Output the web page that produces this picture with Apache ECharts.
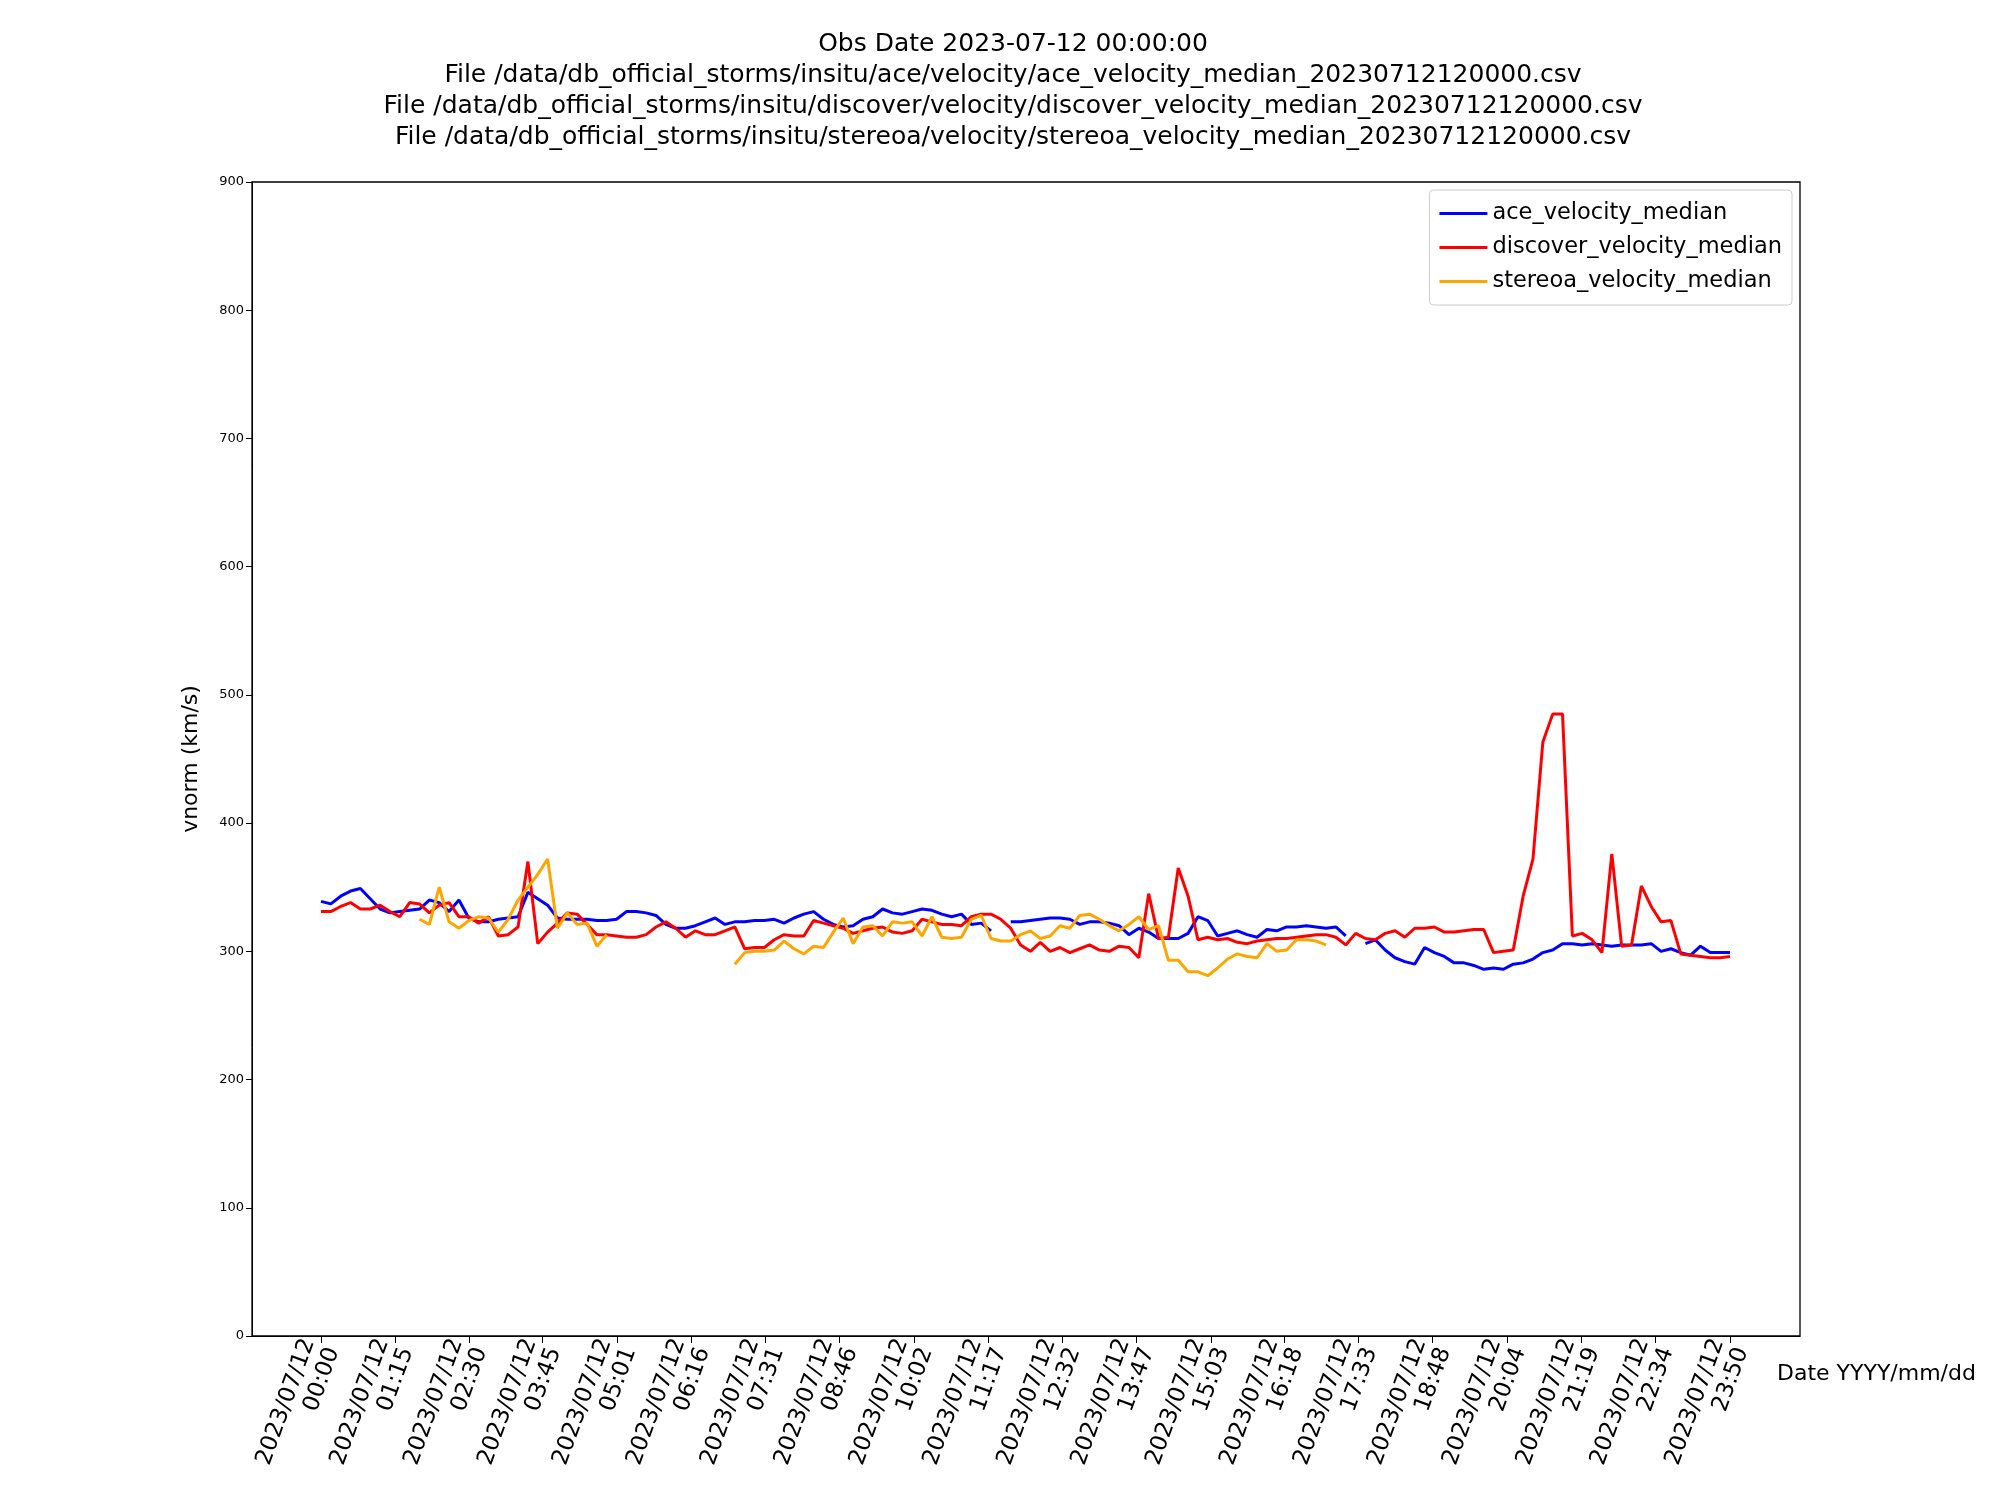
<!DOCTYPE html>
<html><head><meta charset="utf-8">
<script src="https://cdn.jsdelivr.net/npm/echarts@6/dist/echarts.min.js"></script>
<style>html,body{margin:0;padding:0;background:#fff}#c{width:2000px;height:1500px}</style>
</head><body><div id="c"></div>
<script>
const tickLabels = ["00:00","01:15","02:30","03:45","05:01","06:16","07:31","08:46","10:02","11:17","12:32","13:47","15:03","16:18","17:33","18:48","20:04","21:19","22:34","23:50"];
const stepMinutes = 10;
const ace = [339,337,343,347,349,341,333,330,331,332,333,340,338,331,340,326,323,323,325,326,327,346,341,336,326,325,325,325,324,324,325,331,331,330,328,321,318,318,320,323,326,321,323,323,324,324,325,322,326,329,331,325,321,319,320,325,327,333,330,329,331,333,332,329,327,329,321,322,316,null,323,323,324,325,326,326,325,321,323,323,322,320,313,318,315,310,310,310,314,327,324,312,314,316,313,311,317,316,319,319,320,319,318,319,312,null,306,309,301,295,292,290,303,299,296,291,291,289,286,287,286,290,291,294,299,301,306,306,305,306,305,304,305,305,305,306,300,302,299,297,304,299,299,299];
const discover = [331,331,335,338,333,333,336,331,327,338,337,330,336,338,327,327,322,327,312,313,319,370,306,315,322,330,329,321,313,313,312,311,311,313,319,323,318,311,316,313,313,316,319,302,303,303,309,313,312,312,324,322,320,318,314,316,318,319,315,314,316,325,323,321,321,320,327,329,329,325,318,305,300,307,300,303,299,302,305,301,300,304,303,295,345,310,311,365,343,309,311,309,310,307,306,308,309,310,310,311,312,313,313,311,305,314,310,309,314,316,311,318,318,319,315,315,316,317,317,299,300,301,343,372,463,485,485,312,314,309,299,376,304,305,351,335,323,324,298,297,296,295,295,296];
const stereoa = [null,null,null,null,null,null,null,null,null,null,325,321,350,323,318,324,327,326,315,325,340,350,360,372,318,330,321,322,304,313,null,null,null,null,null,null,null,null,null,null,null,null,290,299,300,300,301,308,302,298,304,303,315,326,306,319,320,312,323,322,323,312,327,311,310,311,325,328,310,308,308,313,316,310,312,320,318,328,329,325,320,316,321,327,317,320,293,293,284,284,281,287,294,298,296,295,306,300,301,309,309,308,305];
const toPairs = a => a.map((v,i)=>[i*stepMinutes, v]);
const tickVals = tickLabels.map(s=>{const [h,m]=s.split(':').map(Number);return h*60+m;});
const lab = {}; tickVals.forEach((v,i)=>lab[v]=tickLabels[i]);
const chart = echarts.init(document.getElementById('c'));
chart.setOption({
  animation:false,
  title:{text:"Obs Date 2023-07-12 00:00:00\nFile /data/db_official_storms/insitu/ace/velocity/ace_velocity_median_20230712120000.csv\nFile /data/db_official_storms/insitu/discover/velocity/discover_velocity_median_20230712120000.csv\nFile /data/db_official_storms/insitu/stereoa/velocity/stereoa_velocity_median_20230712120000.csv",
    left:1008, textAlign:'center', top:24, textStyle:{fontFamily:'DejaVu Sans',fontWeight:'normal',fontSize:25,lineHeight:31,color:'#000'}},
  legend:{right:208,top:190,orient:'vertical',itemWidth:48,itemHeight:3,itemGap:11,padding:[12,10,12,10],
    borderColor:'#ccc',borderWidth:1,borderRadius:4,icon:'rect',
    textStyle:{fontFamily:'DejaVu Sans',fontSize:22.5,color:'#000'}},
  grid:{left:252,right:200,top:182,bottom:164,show:true,borderColor:'#000',borderWidth:1.3,containLabel:false},
  xAxis:{type:'value',min:-70,max:1501,
    axisLine:{onZero:false,lineStyle:{color:'#000'}},splitLine:{show:false},
    axisTick:{customValues:tickVals,length:7,lineStyle:{color:'#000'}},
    axisLabel:{customValues:tickVals,rotate:70,fontFamily:'DejaVu Sans',fontSize:23,color:'#000',lineHeight:26,
      formatter:v=>'2023/07/12\n'+(lab[Math.round(v)]||'')}},
  yAxis:{type:'value',min:0,max:900,interval:100,
    name:'vnorm (km/s)',nameLocation:'middle',nameGap:50,nameTextStyle:{fontFamily:'DejaVu Sans',fontSize:22,color:'#000'},
    axisLine:{show:true,onZero:false,lineStyle:{color:'#000'}},axisTick:{show:true,length:6,lineStyle:{color:'#000'}},splitLine:{show:false},
    axisLabel:{fontFamily:'DejaVu Sans',fontSize:13,color:'#000'}},
  graphic:[{type:'text',left:1777,top:1363,style:{text:'Date YYYY/mm/dd',fontFamily:'DejaVu Sans',fontSize:22,fill:'#000'}}],
  series:[
    {name:'ace_velocity_median',type:'line',data:toPairs(ace),showSymbol:false,lineStyle:{width:3,color:'#0000ff'},itemStyle:{color:'#0000ff'}},
    {name:'discover_velocity_median',type:'line',data:toPairs(discover),showSymbol:false,lineStyle:{width:3,color:'#ff0000'},itemStyle:{color:'#ff0000'}},
    {name:'stereoa_velocity_median',type:'line',data:toPairs(stereoa),showSymbol:false,lineStyle:{width:3,color:'#ffa500'},itemStyle:{color:'#ffa500'}}
  ]
});
</script></body></html>
